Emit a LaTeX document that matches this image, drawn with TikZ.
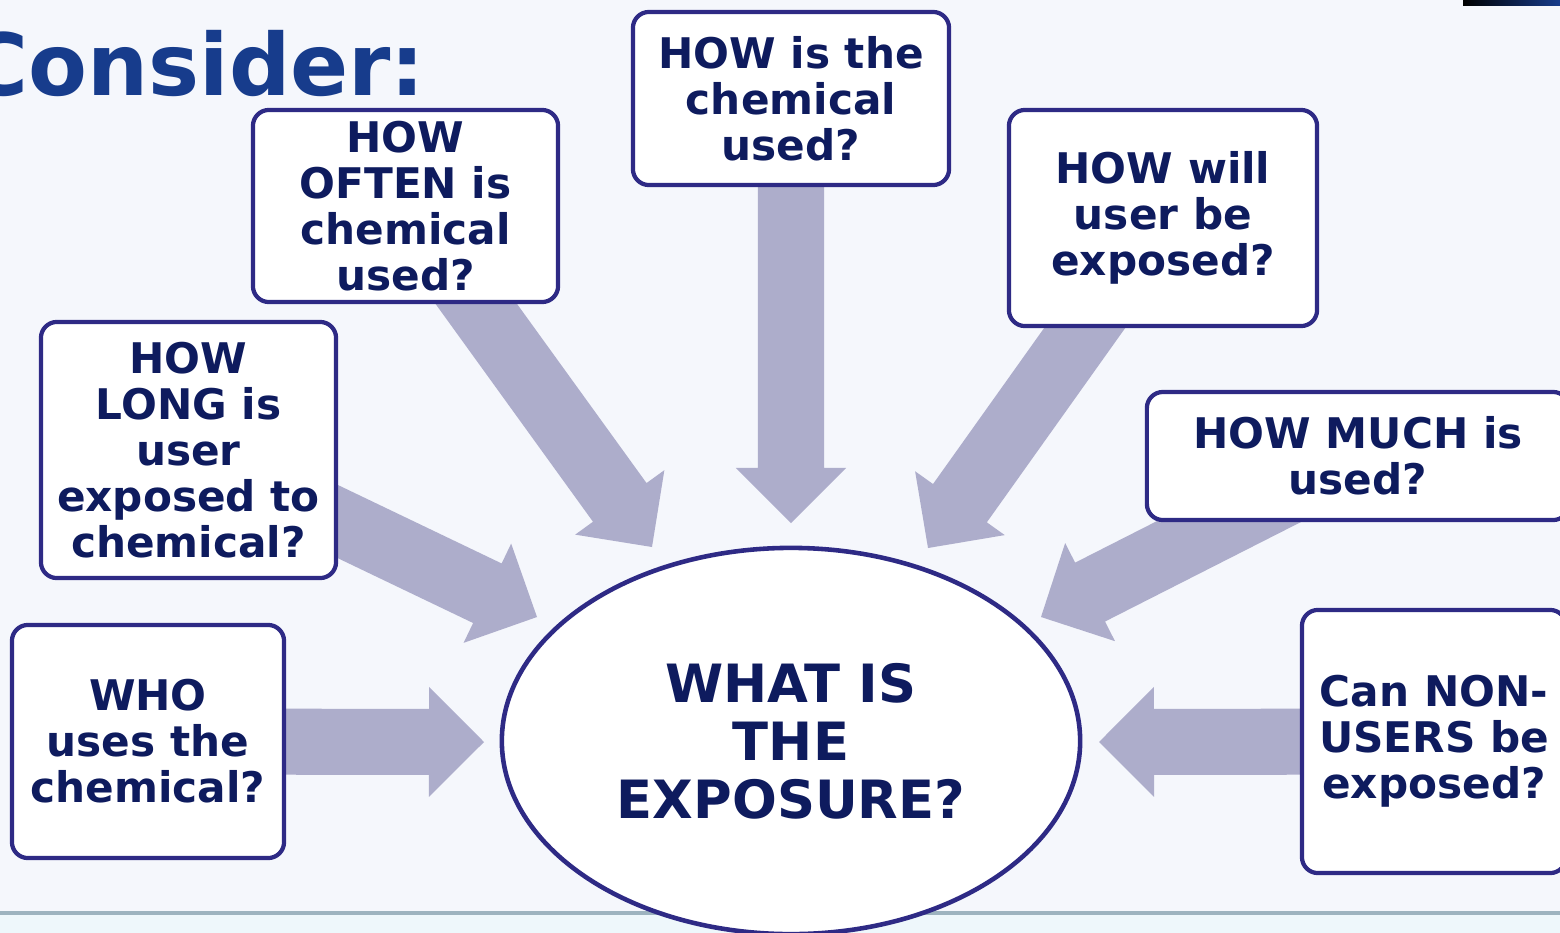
\documentclass[tikz,border=0pt]{standalone}
\usepackage{fontspec}
\setmainfont{DejaVu Sans}
\usetikzlibrary{calc}
\usetikzlibrary{shapes.geometric}
\usetikzlibrary{positioning}

\definecolor{navyline}{RGB}{46,42,133}
\definecolor{navytext}{RGB}{14,27,94}
\definecolor{titleblue}{RGB}{23,60,140}
\definecolor{arrowgrey}{RGB}{173,173,203}
\definecolor{slidebg}{RGB}{245,247,252}
\definecolor{rulegrey}{RGB}{157,179,191}
\definecolor{footband}{RGB}{238,247,251}

\pgfdeclarelayer{bg}
\pgfdeclarelayer{arrows}
\pgfsetlayers{bg,arrows,main}

\begin{document}
\begin{tikzpicture}
  [
    x=0.01cm, y=-0.01cm,
    box/.style    = {draw=navyline, line width=1.2pt, rounded corners=0.16cm, fill=white, text=navytext, align=center, inner sep=0pt, font=\fontsize{12}{13.1}\selectfont\bfseries},
    bigoval/.style = {draw=navyline, ellipse, line width=1.3pt, fill=white, text=navytext, align=center, minimum width=5.78cm, minimum height=3.86cm, font=\fontsize{15}{16.5}\selectfont\bfseries},
    fat/.style    = {fill=arrowgrey},
  ]

  \useasboundingbox (0,0) rectangle (1560,933);
  \clip (0,0) rectangle (1560,933);

  % the slide
  \begin{pgfonlayer}{bg}
    \fill[slidebg] (0,0) rectangle (1560,933);
    \fill[footband] (0,913) rectangle (1560,933);
    \draw[rulegrey, line width=0.9pt] (0,913) -- (1560,913);
    \shade[left color=black, right color=titleblue] (1463,0) rectangle (1560,5);
  \end{pgfonlayer}

  \node (title) at (426,95) [anchor=base east, inner sep=0pt, text=titleblue, font=\fontsize{24.4}{28}\selectfont\bfseries] {Consider:};

  % the questions
  \node (often) at (405.5,206) [box, minimum width=3.05cm, minimum height=1.92cm] {HOW\\OFTEN is\\chemical\\used?};
  \node (howis) at (791,98.5) [box, minimum width=3.16cm, minimum height=1.73cm] {HOW is the\\chemical\\used?};
  \node (will) at (1163,218) [box, minimum width=3.08cm, minimum height=2.16cm] {HOW will\\user be\\exposed?};
  \node (long) at (188.5,450) [box, minimum width=2.95cm, minimum height=2.56cm] {HOW\\LONG is\\user\\exposed to\\chemical?};
  \node (much) at (1358,456) [box, minimum width=4.22cm, minimum height=1.28cm] {HOW MUCH is\\used?};
  \node (who) at (148,741.5) [box, minimum width=2.72cm, minimum height=2.33cm] {WHO\\uses the\\chemical?};
  \node (nonusers) at (1434,741.5) [box, minimum width=2.64cm, minimum height=2.63cm] {Can NON-\\USERS be\\exposed?};

  % the exposure
  \node (expo) at (791,741) [bigoval] {WHAT IS\\THE\\EXPOSURE?};

  % arrow tips
  \coordinate (tipoften) at (652,547);
  \coordinate (tiphowis) at (791,523);
  \coordinate (tipwill) at (928,548);
  \coordinate (tiplong) at (537,617);
  \coordinate (tipmuch) at (1041,617);
  \coordinate (tipwho) at (484,742);
  \coordinate (tipnonusers) at (1099,742);

  \def\shaft{0.33cm}
  \def\head{0.55cm}
  \def\fatarrow#1#2{%
    \coordinate (hb) at ($(#2)!\head!(#1)$);
    \fill[fat] ($(#1)!\shaft!90:(#2)$) -- ($(hb)!\shaft!90:(#2)$) -- ($(hb)!\head!90:(#2)$)
      -- (#2) -- ($(hb)!\head!-90:(#2)$) -- ($(hb)!\shaft!-90:(#2)$) -- ($(#1)!\shaft!-90:(#2)$) -- cycle;}

  \begin{pgfonlayer}{arrows}
    \fatarrow{often}{tipoften}
    \fatarrow{howis}{tiphowis}
    \fatarrow{will}{tipwill}
    \fatarrow{long}{tiplong}
    \fatarrow{much}{tipmuch}
    \fatarrow{who}{tipwho}
    \fatarrow{nonusers}{tipnonusers}
  \end{pgfonlayer}

\end{tikzpicture}
\end{document}
